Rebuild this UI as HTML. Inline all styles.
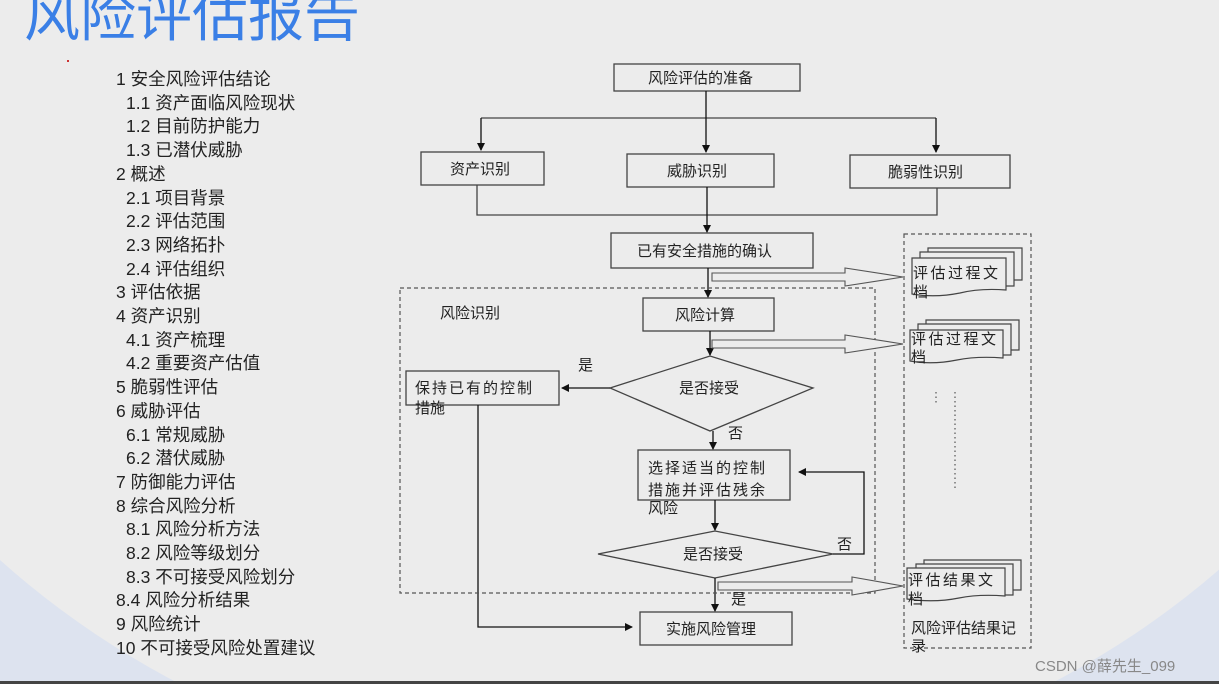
<!DOCTYPE html>
<html><head><meta charset="utf-8"><style>
html,body{margin:0;padding:0;width:1219px;height:684px;overflow:hidden}
body{position:relative;background:#dde3ef;font-family:"Liberation Sans","Noto Sans CJK SC",sans-serif}
.bg{position:absolute;left:-258px;top:-789px;width:1746px;height:1578px;border-radius:50%;background:#ececec}
.title{position:absolute;left:24px;top:-18px;font-size:56px;color:#3a7fe6;line-height:70px;white-space:nowrap}
.list{position:absolute;left:116px;top:68px;font-size:17.5px;line-height:23.7px;color:#222;white-space:nowrap}
.list .s{padding-left:10px}
.bar{position:absolute;left:0;top:681px;width:1219px;height:3px;background:#444}
svg{position:absolute;left:0;top:0}
svg text{font-family:"Liberation Sans","Noto Sans CJK SC",sans-serif;font-size:15px;fill:#222}
</style></head><body>
<div class="bg"></div>
<div class="title">风险评估报告</div>
<div style="position:absolute;left:67px;top:60px;width:2px;height:2px;background:#c33"></div>
<div class="list">
<div>1 安全风险评估结论</div>
<div class="s">1.1 资产面临风险现状</div>
<div class="s">1.2 目前防护能力</div>
<div class="s">1.3 已潜伏威胁</div>
<div>2 概述</div>
<div class="s">2.1 项目背景</div>
<div class="s">2.2 评估范围</div>
<div class="s">2.3 网络拓扑</div>
<div class="s">2.4 评估组织</div>
<div>3 评估依据</div>
<div>4 资产识别</div>
<div class="s">4.1 资产梳理</div>
<div class="s">4.2 重要资产估值</div>
<div>5 脆弱性评估</div>
<div>6 威胁评估</div>
<div class="s">6.1 常规威胁</div>
<div class="s">6.2 潜伏威胁</div>
<div>7 防御能力评估</div>
<div>8 综合风险分析</div>
<div class="s">8.1 风险分析方法</div>
<div class="s">8.2 风险等级划分</div>
<div class="s">8.3 不可接受风险划分</div>
<div>8.4 风险分析结果</div>
<div>9 风险统计</div>
<div>10 不可接受风险处置建议</div>
</div>
<svg width="1219" height="684" viewBox="0 0 1219 684">
<defs><marker id="a" markerWidth="8" markerHeight="8" refX="7" refY="4" orient="auto" markerUnits="userSpaceOnUse"><path d="M0,0 L8,4 L0,8 z" fill="#111"/></marker></defs>
<g stroke="#444" stroke-width="1.3" fill="none">
<rect x="614" y="64" width="186" height="27"/>
<rect x="421" y="152" width="123" height="33"/>
<rect x="627" y="154" width="147" height="33"/>
<rect x="850" y="155" width="160" height="33"/>
<rect x="611" y="233" width="202" height="35"/>
<rect x="643" y="298" width="131" height="33"/>
<rect x="406" y="371" width="153" height="34"/>
<rect x="638" y="450" width="152" height="50"/>
<rect x="640" y="612" width="152" height="33"/>
<path d="M610,388 L710,356 L813,388 L710,431 Z"/>
<path d="M598,554 L715,531 L833,554 L715,578 Z"/>
<path d="M481,118 H936"/>
<path d="M477,185 V215 H937 V188"/>
<path d="M478,405 V627 H632" marker-end="url(#a)" stroke="#111"/>
<path d="M833,554 H864 V472 H799" marker-end="url(#a)" stroke="#111"/>
</g>
<g stroke="#111" stroke-width="1.3" fill="none" marker-end="url(#a)">
<path d="M706,91 V152"/>
<path d="M481,118 V150"/>
<path d="M936,118 V152"/>
<path d="M707,187 V232"/>
<path d="M708,268 V297"/>
<path d="M710,331 V355"/>
<path d="M610,388 H562"/>
<path d="M713,431 V449"/>
<path d="M715,500 V530"/>
<path d="M715,578 V611"/>
</g>
<g stroke="#555" stroke-width="1.2" fill="none" stroke-dasharray="4,3">
<rect x="400" y="288" width="475" height="305"/>
<rect x="904" y="234" width="127" height="414"/>
</g>
<g stroke="#555" stroke-width="1.2" fill="none" stroke-dasharray="1.5,3">
<path d="M936,392 V405"/><path d="M955,392 V490"/>
</g>
<g stroke="#555" stroke-width="1.1" fill="#ececec">
<path d="M712,273 H845 V268 L903,277 L845,286 V281 H712 Z"/>
<path d="M712,340 H845 V335 L903,344 L845,353 V348 H712 Z"/>
<path d="M718,582 H852 V577 L903,586 L852,595 V590 H718 Z"/>
</g>
<g stroke="#444" stroke-width="1.2" fill="#ececec">
<path d="M928,248 H1022 V280 H928 Z"/><path d="M920,252 H1014 V286 H920 Z"/>
<path d="M912,258 H1006 V290 Q980,288 960,293 Q935,298 912,294 Z"/>
<path d="M926,320 H1019 V350 H926 Z"/><path d="M918,324 H1011 V355 H918 Z"/>
<path d="M910,330 H1003 V358 Q977,356 957,360 Q932,365 910,361 Z"/>
<path d="M924,560 H1021 V590 H924 Z"/><path d="M916,564 H1013 V595 H916 Z"/>
<path d="M907,568 H1005 V596 Q979,594 959,598 Q934,603 907,599 Z"/>
</g>
<text x="648" y="83">风险评估的准备</text>
<text x="450" y="174">资产识别</text>
<text x="667" y="176">威胁识别</text>
<text x="888" y="177">脆弱性识别</text>
<text x="637" y="256">已有安全措施的确认</text>
<text x="675" y="320">风险计算</text>
<text x="440" y="318">风险识别</text>
<text x="578" y="370">是</text>
<text x="679" y="393">是否接受</text>
<text x="415" y="393" letter-spacing="2">保持已有的控制</text>
<text x="415" y="413">措施</text>
<text x="728" y="438">否</text>
<text x="648" y="473" letter-spacing="2">选择适当的控制</text>
<text x="648" y="495" letter-spacing="2">措施并评估残余</text>
<text x="648" y="513">风险</text>
<text x="683" y="559">是否接受</text>
<text x="837" y="549">否</text>
<text x="731" y="604">是</text>
<text x="666" y="634">实施风险管理</text>
<text x="913" y="278" letter-spacing="2.5">评估过程文</text><text x="913" y="297">档</text>
<text x="911" y="344" letter-spacing="2.5">评估过程文</text><text x="911" y="362">档</text>
<text x="908" y="585" letter-spacing="2.5">评估结果文</text><text x="908" y="604">档</text>
<text x="911" y="633">风险评估结果记</text><text x="911" y="651">录</text>
<text x="1035" y="671" style="fill:#888;font-size:15px">CSDN @薛先生_099</text>
</svg>
<div class="bar"></div>
</body></html>
